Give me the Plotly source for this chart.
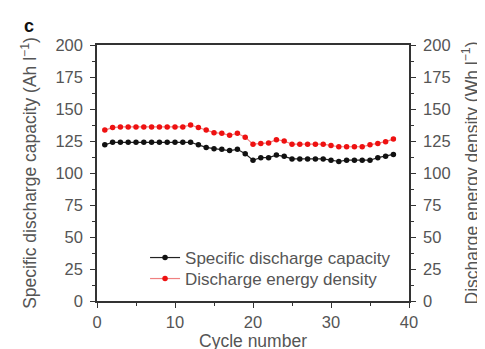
import plotly.graph_objects as go

cycles = list(range(1, 39))
capacity = [122, 124, 124, 124, 124, 124, 124, 124, 124, 124, 124, 124, 122, 120, 119, 118.5, 117.5, 118.5, 115, 110,
            112, 112, 114, 113, 111, 111, 111, 111, 111, 110, 109, 110, 110, 110, 110, 112, 113, 114.5]
energy = [133.5, 135.5, 136, 136, 136, 136, 136, 136, 136, 136, 136, 137.5, 135.5, 133.5, 131.5, 131, 129.5, 131, 128, 122.5,
          123, 123.5, 126, 125, 122.5, 122.5, 122.5, 122.5, 122.5, 121.5, 120.5, 120.5, 120.5, 120.5, 122, 123, 124.5, 126.5]
y_ticks = [0, 25, 50, 75, 100, 125, 150, 175, 200]
x_ticks = [0, 10, 20, 30, 40]

FONT = "Liberation Sans, Arial"
GREY = "#555555"
fig = go.Figure()
fig.add_trace(go.Scatter(x=cycles, y=capacity, mode="lines+markers", name="Specific discharge capacity",
                         line=dict(color="#222222", width=1.2),
                         marker=dict(color="#111111", size=5.5, symbol="circle"), legend="legend"))
fig.add_trace(go.Scatter(x=cycles, y=energy, mode="lines+markers", name="Discharge energy density",
                         line=dict(color="#f08080", width=1.2),
                         marker=dict(color="#ee1111", size=5.5, symbol="circle"), yaxis="y2",
                         legend="legend2"))

axis_common = dict(showgrid=False, zeroline=False, showline=True, linecolor="#333333", linewidth=1.5,
                   ticks="outside", ticklen=5, tickcolor="#333333", tickwidth=1.2, automargin=False,
                   tickfont=dict(family=FONT, size=16.5, color=GREY))

leg_common = dict(xanchor="left", yanchor="middle", bgcolor="rgba(0,0,0,0)",
                  font=dict(family=FONT, size=17, color=GREY), itemwidth=30)

fig.update_layout(
    width=485, height=349,
    margin=dict(l=89, r=84, t=37, b=56),
    paper_bgcolor="white", plot_bgcolor="white",
    showlegend=True,
    legend=dict(x=0.154, y=0.168, **leg_common),
    legend2=dict(x=0.154, y=0.086, **leg_common),
    xaxis=dict(range=[0, 40], tickvals=x_ticks, mirror=True, ticklabelstandoff=0,
               minor=dict(dtick=5, ticks="outside", ticklen=3, tickcolor="#333333"),
               title=dict(text="Cycle number", standoff=0,
                          font=dict(family=FONT, size=17.5, color=GREY)),
               **axis_common),
    yaxis=dict(range=[0, 200], tickvals=y_ticks, ticklabelstandoff=4,
               minor=dict(dtick=12.5, ticks="outside", ticklen=3, tickcolor="#333333"),
               title=dict(text="Specific discharge capacity (Ah l<sup>−1</sup>)", standoff=14,
                          font=dict(family=FONT, size=17.5, color=GREY)),
               **axis_common),
    yaxis2=dict(range=[0, 200], tickvals=y_ticks, overlaying="y", side="right", ticklabelstandoff=4,
                minor=dict(dtick=12.5, ticks="outside", ticklen=3, tickcolor="#333333"),
                title=dict(text="Discharge energy density (Wh l<sup>−1</sup>)", standoff=16,
                           font=dict(family=FONT, size=17.5, color=GREY)),
                **axis_common),
    annotations=[dict(text="<b>c</b>", x=-0.217, y=1.075, xref="paper", yref="paper", showarrow=False,
                      xanchor="center", yanchor="middle",
                      font=dict(family=FONT, size=18, color="#111111"))],
)

fig.write_html("out.html")
